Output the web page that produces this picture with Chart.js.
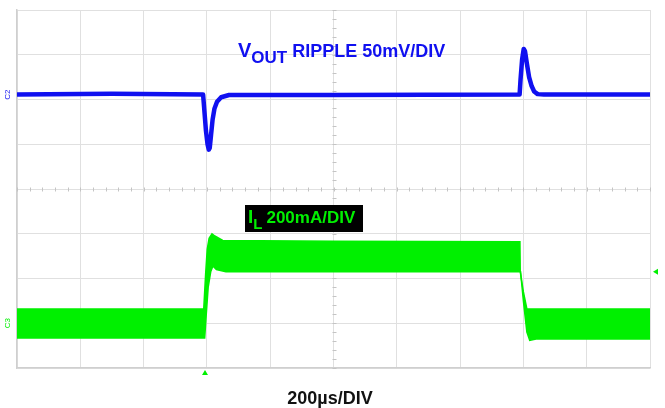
<!DOCTYPE html>
<html>
<head>
<meta charset="utf-8">
<style>
  html, body { margin: 0; padding: 0; background: #fff; }
  #wrap { width: 665px; height: 408px; }
</style>
<script src="https://cdn.jsdelivr.net/npm/chart.js@4/dist/chart.umd.min.js"></script>
</head>
<body>
<div id="wrap"><canvas id="scope" width="665" height="408"></canvas></div>
<script>
// time axis in µs (200µs/DIV, 10 divisions), vertical axis in divisions (8 divisions)
const xTicks = [0, 200, 400, 600, 800, 1000, 1200, 1400, 1600, 1800, 2000];
const yTicks = [-4, -3, -2, -1, 0, 1, 2, 3, 4];

// VOUT ripple trace (C2)
const voutTime = [0, 300, 588, 592, 597, 602, 606, 609, 613, 618, 624, 632, 645, 670, 1000, 1588, 1591, 1596, 1601, 1605, 1611, 1618, 1626, 1634, 1645, 1665, 2000];
const voutDiv  = [2.11, 2.13, 2.11, 1.75, 1.3, 1.0, 0.88, 0.92, 1.2, 1.55, 1.8, 1.95, 2.05, 2.1, 2.1, 2.11, 2.45, 2.9, 3.13, 3.08, 2.8, 2.5, 2.3, 2.18, 2.12, 2.11, 2.11];

// inductor current (C3), upper and lower edges of the ripple band
const ilTopTime = [0, 590, 596, 601, 607, 616, 625, 650, 1000, 1589, 1590, 1600, 1611, 2000];
const ilTopDiv  = [-2.68, -2.68, -1.9, -1.35, -1.1, -1.0, -1.05, -1.15, -1.17, -1.18, -1.85, -2.3, -2.68, -2.68];
const ilBotTime = [0, 593, 598, 604, 612, 619, 630, 660, 1591, 1600, 1611, 1620, 1640, 2000];
const ilBotDiv  = [-3.33, -3.33, -2.8, -2.2, -1.85, -1.72, -1.8, -1.85, -1.85, -2.5, -3.2, -3.38, -3.35, -3.35];

const triggerLevel = -1.85;
const triggerTime = 594;

const toPts = (xs, ys) => xs.map((x, i) => ({ x: x, y: ys[i] }));

const BLUE = 'rgb(16, 16, 240)';
const GREEN = 'rgb(0, 240, 0)';
const FONT = '"Liberation Sans", Arial, sans-serif';

const scopeText = {
  id: 'scopeText',
  beforeDatasetsDraw(chart) {
    const ctx = chart.ctx;
    const xs = chart.scales.x, ys = chart.scales.y;
    ctx.save();
    // minor ticks on the centre axes
    ctx.strokeStyle = '#c4c4c4';
    ctx.lineWidth = 1;
    const cx = Math.round(xs.getPixelForValue(1000)) + 0.5;
    const cy = Math.round(ys.getPixelForValue(0)) + 0.5;
    for (let v = 0; v <= 2000; v += 40) {
      const px = Math.round(xs.getPixelForValue(v)) + 0.5;
      ctx.beginPath(); ctx.moveTo(px, cy - 2); ctx.lineTo(px, cy + 2); ctx.stroke();
    }
    for (let v = -4; v <= 4.001; v += 0.2) {
      const py = Math.round(ys.getPixelForValue(v)) + 0.5;
      ctx.beginPath(); ctx.moveTo(cx - 2, py); ctx.lineTo(cx + 2, py); ctx.stroke();
    }
    ctx.restore();
  },
  afterDraw(chart) {
    const ctx = chart.ctx;
    const xs = chart.scales.x, ys = chart.scales.y;
    const a = chart.chartArea;
    ctx.save();
    ctx.textBaseline = 'alphabetic';

    // VOUT label
    ctx.fillStyle = BLUE;
    let x = 238;
    ctx.font = 'bold 20px ' + FONT;
    ctx.fillText('V', x, 57);
    x += ctx.measureText('V').width;
    ctx.font = 'bold 17px ' + FONT;
    ctx.fillText('OUT', x, 63);
    x += ctx.measureText('OUT').width + 5;
    ctx.font = 'bold 18px ' + FONT;
    ctx.fillText('RIPPLE 50mV/DIV', x, 57);

    // IL label on black box
    ctx.fillStyle = '#000';
    ctx.fillRect(245, 205, 118, 27);
    ctx.fillStyle = GREEN;
    x = 248;
    ctx.font = 'bold 19px ' + FONT;
    ctx.fillText('I', x, 223);
    x += ctx.measureText('I').width;
    ctx.font = 'bold 15px ' + FONT;
    ctx.fillText('L', x, 229);
    x += ctx.measureText('L').width + 4;
    ctx.font = 'bold 17px ' + FONT;
    ctx.fillText('200mA/DIV', x, 223);

    // time base
    ctx.fillStyle = '#111';
    ctx.font = 'bold 18px ' + FONT;
    ctx.textAlign = 'center';
    ctx.fillText('200\u00b5s/DIV', 330, 404);

    // channel markers
    ctx.font = '8px ' + FONT;
    ctx.textAlign = 'center';
    ctx.textBaseline = 'middle';
    ctx.fillStyle = BLUE;
    ctx.save();
    ctx.translate(8, ys.getPixelForValue(2.11));
    ctx.rotate(-Math.PI / 2);
    ctx.fillText('C2', 0, 0);
    ctx.restore();
    ctx.fillStyle = GREEN;
    ctx.save();
    ctx.translate(8, ys.getPixelForValue(-3.0));
    ctx.rotate(-Math.PI / 2);
    ctx.fillText('C3', 0, 0);
    ctx.restore();

    // trigger markers
    const ty = ys.getPixelForValue(triggerLevel);
    ctx.beginPath();
    ctx.moveTo(a.right + 3, ty);
    ctx.lineTo(a.right + 8, ty - 3);
    ctx.lineTo(a.right + 8, ty + 3);
    ctx.closePath();
    ctx.fill();
    const tx = xs.getPixelForValue(triggerTime);
    ctx.beginPath();
    ctx.moveTo(tx, a.bottom + 2);
    ctx.lineTo(tx - 3, a.bottom + 7);
    ctx.lineTo(tx + 3, a.bottom + 7);
    ctx.closePath();
    ctx.fill();
    ctx.restore();
  }
};

new Chart(document.getElementById('scope'), {
  type: 'line',
  data: {
    datasets: [
      {
        label: 'VOUT',
        data: toPts(voutTime, voutDiv),
        borderColor: BLUE,
        borderWidth: 4.5,
        borderJoinStyle: 'round',
        pointRadius: 0,
        tension: 0,
        fill: false
      },
      {
        label: 'IL top',
        data: toPts(ilTopTime, ilTopDiv),
        borderColor: GREEN,
        backgroundColor: GREEN,
        borderWidth: 1.5,
        pointRadius: 0,
        fill: '+1'
      },
      {
        label: 'IL bottom',
        data: toPts(ilBotTime, ilBotDiv),
        borderColor: GREEN,
        borderWidth: 1.5,
        pointRadius: 0,
        fill: false
      }
    ]
  },
  options: {
    responsive: false,
    animation: false,
    layout: { padding: { left: 17, right: 15, top: 10, bottom: 40 } },
    plugins: { legend: { display: false }, tooltip: { enabled: false } },
    scales: {
      x: {
        type: 'linear', min: 0, max: 2000,
        afterBuildTicks: (s) => { s.ticks = xTicks.map(v => ({ value: v })); },
        ticks: { display: false },
        grid: { color: '#e0e0e0', lineWidth: 1, drawTicks: false },
        border: { color: '#cfcfcf', width: 1.5 }
      },
      y: {
        type: 'linear', min: -4, max: 4,
        afterBuildTicks: (s) => { s.ticks = yTicks.map(v => ({ value: v })); },
        ticks: { display: false },
        grid: { color: '#e0e0e0', lineWidth: 1, drawTicks: false },
        border: { color: '#cfcfcf', width: 1.5 }
      }
    }
  },
  plugins: [scopeText]
});
</script>
</body>
</html>
